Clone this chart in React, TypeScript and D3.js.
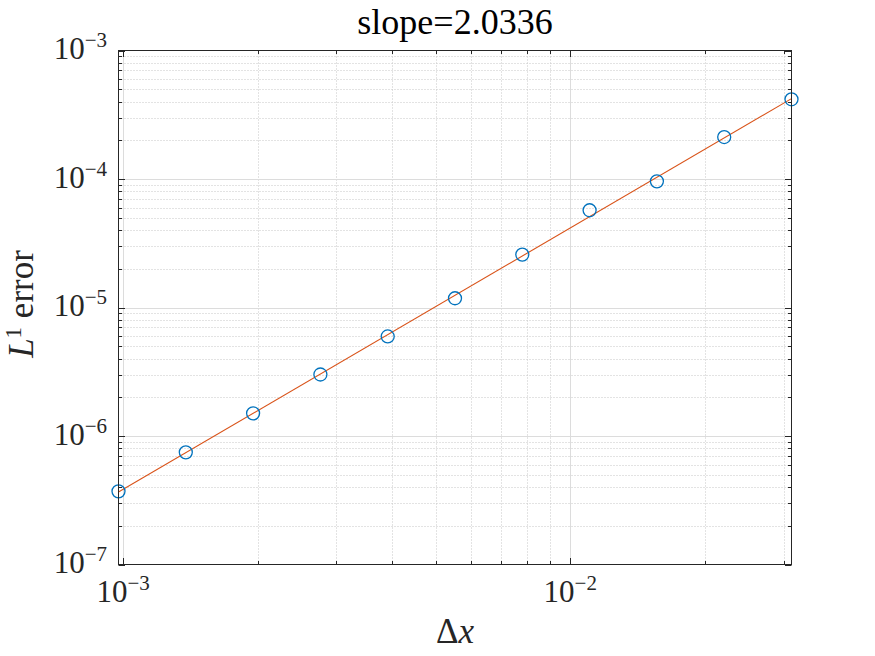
import React from "react";
import * as d3 from "d3";

const dx = [0.0009765625, 0.0013810679, 0.001953125, 0.0027621359, 0.00390625, 0.0055242717, 0.0078125, 0.0110485435, 0.015625, 0.0220970869, 0.03125];
const errL1 = [3.71e-7, 7.46e-7, 1.5e-6, 3.01e-6, 5.95e-6, 1.18e-5, 2.58e-5, 5.71e-5, 9.59e-5, 2.12e-4, 4.17e-4];
const xTickExps = [-3, -2];
const yTickExps = [-7, -6, -5, -4, -3];
const titleText = "slope=2.0336";

const W = 875, H = 656;
const L = 118.5, R = 791.5, T = 50.5, B = 564.5;
const FONT = "'Liberation Serif', 'DejaVu Serif', serif";
const AX = "#262626";

export default function App() {
  const x = d3.scaleLog().domain([dx[0], dx[dx.length - 1]]).range([L, R]);
  const y = d3.scaleLog().domain([1e-7, 1e-3]).range([B, T]);

  // least squares fit in log-log space
  const lx = dx.map(Math.log10), ly = errL1.map(Math.log10);
  const mx = d3.mean(lx)!, my = d3.mean(ly)!;
  const slope = d3.sum(lx.map((v, i) => (v - mx) * (ly[i] - my))) / d3.sum(lx.map(v => (v - mx) ** 2));
  const icpt = my - slope * mx;
  const fitPts: [number, number][] = [dx[0], dx[dx.length - 1]].map(v => [v, Math.pow(10, icpt + slope * Math.log10(v))]);
  const line = d3.line<[number, number]>().x(d => x(d[0])).y(d => y(d[1]));

  const [xd0, xd1] = x.domain();
  const xMajor = x.ticks().filter(v => Math.abs(Math.log10(v) - Math.round(Math.log10(v))) < 1e-9 && v >= xd0 && v <= xd1);
  const xMinor: number[] = [];
  for (let e = -4; e <= -1; e++) for (let m = 2; m <= 9; m++) { const v = m * Math.pow(10, e); if (v > xd0 && v < xd1) xMinor.push(v); }
  const yMinor: number[] = [];
  for (let e = -7; e < -3; e++) for (let m = 2; m <= 9; m++) yMinor.push(m * Math.pow(10, e));
  const yMajor = yTickExps.map(e => Math.pow(10, e));

  const majLen = 6.5, minLen = 3.5;

  return (
    <svg width={W} height={H} style={{ position: "absolute", left: 0, top: 0, background: "#fff", fontFamily: FONT }}>
      <rect x={0} y={0} width={W} height={H} fill="#fff" />
      {/* minor grid */}
      <g stroke="#c6c6c6" strokeWidth={1} strokeDasharray="1,2">
        {xMinor.map((v, i) => <line key={"xm" + i} x1={Math.round(x(v)) + 0.5} x2={Math.round(x(v)) + 0.5} y1={T} y2={B} />)}
        {yMinor.map((v, i) => <line key={"ym" + i} x1={L} x2={R} y1={Math.round(y(v)) + 0.5} y2={Math.round(y(v)) + 0.5} />)}
      </g>
      {/* major grid */}
      <g stroke="#dcdcdc" strokeWidth={1}>
        {xMajor.map((v, i) => <line key={"xM" + i} x1={Math.round(x(v)) + 0.5} x2={Math.round(x(v)) + 0.5} y1={T} y2={B} />)}
        {yMajor.slice(1, -1).map((v, i) => <line key={"yM" + i} x1={L} x2={R} y1={Math.round(y(v)) + 0.5} y2={Math.round(y(v)) + 0.5} />)}
      </g>
      {/* fit line */}
      <path d={line(fitPts)!} fill="none" stroke="#D95319" strokeWidth={1.1} />
      {/* data markers */}
      <g fill="none" stroke="#0072BD" strokeWidth={1.3}>
        {dx.map((v, i) => <circle key={i} cx={x(v)} cy={y(errL1[i])} r={6.5} />)}
      </g>
      {/* ticks */}
      <g stroke={AX} strokeWidth={1}>
        {xMajor.map((v, i) => {
          const px = Math.round(x(v)) + 0.5;
          return <g key={"xt" + i}><line x1={px} x2={px} y1={B} y2={B - majLen} /><line x1={px} x2={px} y1={T} y2={T + majLen} /></g>;
        })}
        {xMinor.map((v, i) => {
          const px = Math.round(x(v)) + 0.5;
          return <g key={"xmt" + i}><line x1={px} x2={px} y1={B} y2={B - minLen} /><line x1={px} x2={px} y1={T} y2={T + minLen} /></g>;
        })}
        {yMajor.map((v, i) => {
          const py = Math.round(y(v)) + 0.5;
          return <g key={"yt" + i}><line x1={L} x2={L + majLen} y1={py} y2={py} /><line x1={R} x2={R - majLen} y1={py} y2={py} /></g>;
        })}
        {yMinor.map((v, i) => {
          const py = Math.round(y(v)) + 0.5;
          return <g key={"ymt" + i}><line x1={L} x2={L + minLen} y1={py} y2={py} /><line x1={R} x2={R - minLen} y1={py} y2={py} /></g>;
        })}
      </g>
      {/* box */}
      <rect x={L} y={T} width={R - L} height={B - T} fill="none" stroke={AX} strokeWidth={1} />
      {/* tick labels */}
      <g fill={AX} fontSize={31}>
        {xTickExps.map(e => (
          <text key={"xl" + e} x={x(Math.pow(10, e))} y={601.5} textAnchor="middle">
            10<tspan fontSize={21} dy={-12}>{"\u2212" + Math.abs(e)}</tspan>
          </text>
        ))}
        {yTickExps.map(e => (
          <text key={"yl" + e} x={107} y={y(Math.pow(10, e)) + 8.5} textAnchor="end">
            10<tspan fontSize={21} dy={-12}>{"\u2212" + Math.abs(e)}</tspan>
          </text>
        ))}
      </g>
      {/* title */}
      <text x={(L + R) / 2} y={34} textAnchor="middle" fontSize={36} fill="#000">{titleText}</text>
      {/* x label */}
      <text x={455} y={642.5} textAnchor="middle" fontSize={35} fill={AX}>
        Δ<tspan fontStyle="italic">x</tspan>
      </text>
      {/* y label */}
      <text transform="translate(33,304) rotate(-90)" textAnchor="middle" fontSize={35} fill={AX}>
        <tspan fontStyle="italic">L</tspan><tspan fontSize={23} dy={-12}>1</tspan><tspan dy={12}>{" error"}</tspan>
      </text>
    </svg>
  );
}
